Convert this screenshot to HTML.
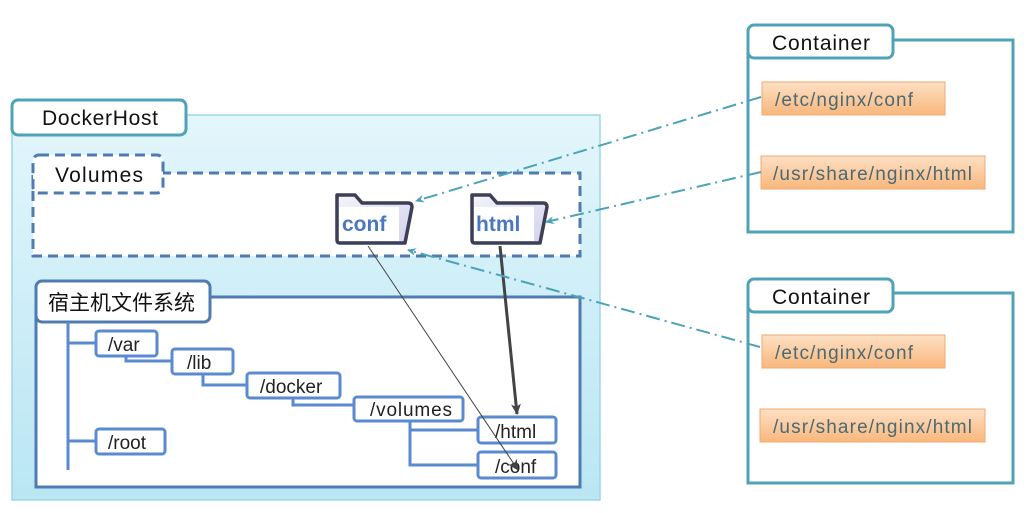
<!DOCTYPE html>
<html><head><meta charset="utf-8"><style>
body{margin:0;background:#fff;}
svg{display:block;font-family:"Liberation Sans","Noto Sans CJK SC",sans-serif;}
</style></head><body>
<svg width="1035" height="513" viewBox="0 0 1035 513">
<defs>
<linearGradient id="bg" x1="0" y1="0" x2="0" y2="1"><stop offset="0" stop-color="#e3f6fb"/><stop offset="1" stop-color="#b9e6f3"/></linearGradient>
<linearGradient id="or" x1="0" y1="0" x2="0" y2="1"><stop offset="0" stop-color="#fde0c4"/><stop offset="1" stop-color="#f9b77c"/></linearGradient>
<linearGradient id="fd" x1="0" y1="0" x2="1" y2="1"><stop offset="0" stop-color="#f4f4fb"/><stop offset="1" stop-color="#d2d2ec"/></linearGradient>
<marker id="ab" markerWidth="10" markerHeight="10" refX="8" refY="5" orient="auto" markerUnits="userSpaceOnUse"><path d="M0,1 L9,5 L0,9 L3,5Z" fill="#4aa3b8"/></marker>
<marker id="ad" markerWidth="12" markerHeight="12" refX="10" refY="6" orient="auto" markerUnits="userSpaceOnUse"><path d="M0,1 L11,6 L0,11 L3,6Z" fill="#444"/></marker>
</defs>
<rect x="12" y="115" width="588" height="385" fill="url(#bg)" stroke="#9fd6e6" stroke-width="1.5"/>
<rect x="12" y="100" width="174" height="35" rx="6" fill="#fff" stroke="#4fa3b8" stroke-width="3"/>
<text x="42" y="125" font-size="21" fill="#111" textLength="116">DockerHost</text>
<rect x="33" y="173" width="547" height="83" fill="#fff" stroke="#4f7bb0" stroke-width="3" stroke-dasharray="10,6"/>
<rect x="33" y="155" width="130" height="38" rx="6" fill="#fff" stroke="#4f7bb0" stroke-width="3" stroke-dasharray="10,6"/>
<text x="55" y="182" font-size="21" fill="#111" textLength="88">Volumes</text>
<g stroke="#3c3f55" stroke-width="3.5" stroke-linejoin="round">
<path d="M337,195 L355,195 L362,203 L408,203 Q412,203 412,207 L405,243 L340,243 Q337,243 337,240Z" fill="url(#fd)"/>
<path d="M472,195 L490,195 L497,203 L543,203 Q547,203 547,207 L540,243 L475,243 Q472,243 472,240Z" fill="url(#fd)"/>
</g>
<rect x="339" y="207" width="60" height="34" fill="#fff"/>
<rect x="474" y="207" width="60" height="34" fill="#fff"/>
<text x="342" y="231" font-size="21" font-weight="bold" fill="#4a78c0">conf</text>
<text x="476" y="231" font-size="21" font-weight="bold" fill="#4a78c0">html</text>
<rect x="36" y="297" width="544" height="190" fill="#fff" stroke="#4f7bb0" stroke-width="3"/>
<rect x="36" y="281" width="174" height="41" rx="6" fill="#fff" stroke="#4f7bb0" stroke-width="3"/>
<text x="48" y="310" font-size="21" fill="#111">宿主机文件系统</text>
<g stroke="#5a8ad0" stroke-width="3" fill="none">
<path d="M68,322 V470 M68,343 H96 M68,441 H96"/>
<path d="M126,356 V361 H172"/>
<path d="M203,374 V385 H247"/>
<path d="M293,398 V405 H354"/>
<path d="M410,421 V465 H478 M410,430 H478"/>
</g>
<g fill="#fff" stroke="#5a8ad0" stroke-width="3">
<rect x="96" y="331" width="61" height="25" rx="3"/>
<rect x="172" y="349" width="61" height="25" rx="3"/>
<rect x="247" y="373" width="93" height="25" rx="3"/>
<rect x="354" y="397" width="109" height="24" rx="3"/>
<rect x="478" y="417" width="78" height="26" rx="3"/>
<rect x="478" y="452" width="78" height="26" rx="3"/>
<rect x="96" y="429" width="69" height="25" rx="3"/>
</g>
<g font-size="19" fill="#222">
<text x="108" y="351">/var</text>
<text x="187" y="369">/lib</text>
<text x="260" y="393">/docker</text>
<text x="370" y="416" textLength="82">/volumes</text>
<text x="495" y="438">/html</text>
<text x="495" y="473">/conf</text>
<text x="108" y="449">/root</text>
</g>
<line x1="500" y1="246" x2="517" y2="414" stroke="#444" stroke-width="3" marker-end="url(#ad)"/>
<line x1="368" y1="246" x2="518" y2="470" stroke="#444" stroke-width="1" marker-end="url(#ad)"/>
<g>
<rect x="748" y="40" width="265" height="192" fill="#fff" stroke="#4fa3b8" stroke-width="3"/>
<rect x="748" y="25" width="145" height="33" rx="6" fill="#fff" stroke="#4fa3b8" stroke-width="3"/>
<text x="772" y="50" font-size="21" fill="#111" textLength="98">Container</text>
<rect x="762" y="82" width="183" height="33" fill="url(#or)" stroke="#f0a870"/>
<text x="775" y="106" font-size="19" fill="#4a6a74" textLength="138">/etc/nginx/conf</text>
<rect x="761" y="156" width="224" height="33" fill="url(#or)" stroke="#f0a870"/>
<text x="773" y="180" font-size="19" fill="#4a6a74" textLength="199">/usr/share/nginx/html</text>
</g>
<g>
<rect x="748" y="293" width="265" height="190" fill="#fff" stroke="#4fa3b8" stroke-width="3"/>
<rect x="748" y="279" width="145" height="33" rx="6" fill="#fff" stroke="#4fa3b8" stroke-width="3"/>
<text x="772" y="304" font-size="21" fill="#111" textLength="98">Container</text>
<rect x="762" y="335" width="183" height="33" fill="url(#or)" stroke="#f0a870"/>
<text x="775" y="359" font-size="19" fill="#4a6a74" textLength="138">/etc/nginx/conf</text>
<rect x="760" y="409" width="225" height="33" fill="url(#or)" stroke="#f0a870"/>
<text x="773" y="433" font-size="19" fill="#4a6a74" textLength="199">/usr/share/nginx/html</text>
</g>
<g stroke="#4aa3b8" stroke-width="2" fill="none" stroke-dasharray="14,5,2,5">
<line x1="761" y1="97" x2="416" y2="201" marker-end="url(#ab)"/>
<line x1="761" y1="172" x2="546" y2="222" marker-end="url(#ab)"/>
<line x1="760" y1="347" x2="408" y2="250" marker-end="url(#ab)"/>
</g>
</svg>
</body></html>
